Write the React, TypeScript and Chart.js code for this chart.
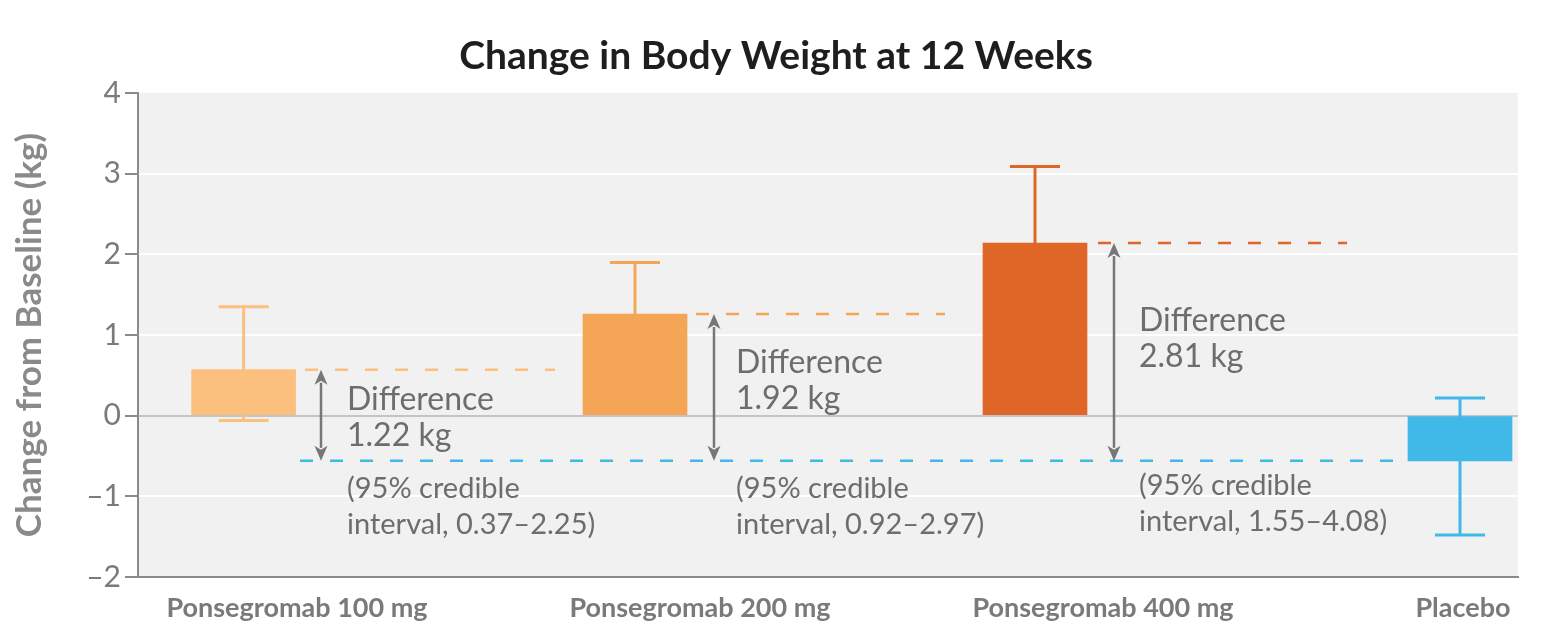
import React, { useEffect, useRef } from "react";
import { Chart, registerables } from "chart.js";

Chart.register(...registerables);

// ---------- data ----------
const CATEGORIES = ["Ponsegromab 100 mg", "Ponsegromab 200 mg", "Ponsegromab 400 mg", "Placebo"];
const MEAN_CHANGE = [0.57, 1.26, 2.14, -0.56];
const CI_UPPER = [1.35, 1.9, 3.09, 0.22];
const CI_LOWER: (number | null)[] = [-0.06, null, null, -1.48];
const DIFFERENCE_KG = ["1.22", "1.92", "2.81"];
const CREDIBLE_INTERVALS = ["0.37\u20132.25", "0.92\u20132.97", "1.55\u20134.08"];
const Y_TICKS = [-2, -1, 0, 1, 2, 3, 4];
const BAR_COLORS = ["#fcc07e", "#f5a556", "#e06627", "#40b8e8"];

// ---------- layout (x in layout units along a linear axis) ----------
const X_MAX = 3.45;
const BAR_POS = [0.264, 1.2425, 2.2425, 3.305];
const LABEL_POS = [0.3975, 1.405, 2.4125, 3.3125];
const DASH_SPANS = [
  [0.4175, 1.0425],
  [1.395, 2.0175],
  [2.4, 3.0225],
];
const PLACEBO_DASH_SPAN = [0.405, 3.175];
const ARROW_X = [0.4575, 1.44, 2.44];
const TEXT_X = [0.5225, 1.495, 2.5025];
const DIFF_TEXT_Y = [0.074, 0.533, 1.053];
const CI_TEXT_Y = [-1.016, -1.016, -0.979];

const FONT = "Lato, 'Noto Sans', sans-serif";

export default function App() {
  const ref = useRef<HTMLCanvasElement | null>(null);

  useEffect(() => {
    const canvas = ref.current;
    if (!canvas) return;

    const placeboIdx = 3;

    const bgPlugin = {
      id: "bg",
      beforeDraw(chart: any) {
        const { ctx, chartArea } = chart;
        ctx.save();
        ctx.fillStyle = "#f1f1f1";
        ctx.fillRect(chartArea.left, chartArea.top, chartArea.right - chartArea.left, chartArea.bottom - chartArea.top);
        ctx.restore();
      },
    };

    const titlePlugin = {
      id: "customTitle",
      afterDraw(chart: any) {
        const { ctx } = chart;
        ctx.save();
        ctx.font = `bold 39px ${FONT}`;
        ctx.fillStyle = "#1e1e1e";
        ctx.textAlign = "center";
        ctx.textBaseline = "alphabetic";
        ctx.fillText("Change in Body Weight at 12 Weeks", 776, 69);
        ctx.restore();
      },
    };

    const errorBarPlugin = {
      id: "errorBars",
      beforeDatasetsDraw(chart: any) {
        const { ctx } = chart;
        const xs = chart.scales.x;
        const ys = chart.scales.y;
        ctx.save();
        ctx.lineWidth = 3;
        for (let i = 0; i < CATEGORIES.length; i++) {
          const x = xs.getPixelForValue(BAR_POS[i]);
          const yU = ys.getPixelForValue(CI_UPPER[i]);
          const low = CI_LOWER[i];
          const yL = ys.getPixelForValue(low === null ? MEAN_CHANGE[i] : low);
          ctx.strokeStyle = BAR_COLORS[i];
          ctx.beginPath();
          ctx.moveTo(x, yU);
          ctx.lineTo(x, yL);
          ctx.stroke();
          ctx.beginPath();
          ctx.moveTo(x - 25, yU);
          ctx.lineTo(x + 25, yU);
          if (low !== null) {
            ctx.moveTo(x - 25, yL);
            ctx.lineTo(x + 25, yL);
          }
          ctx.stroke();
        }
        ctx.restore();
      },
    };

    const annotationPlugin = {
      id: "annotations",
      afterDatasetsDraw(chart: any) {
        const { ctx } = chart;
        const xs = chart.scales.x;
        const ys = chart.scales.y;
        ctx.save();
        const yBase = ys.getPixelForValue(MEAN_CHANGE[placeboIdx]);
        for (let i = 0; i < DIFFERENCE_KG.length; i++) {
          const x = xs.getPixelForValue(ARROW_X[i]);
          const yTop = ys.getPixelForValue(MEAN_CHANGE[i]);
          const head = 15;
          const hw = 6.5;
          ctx.strokeStyle = "#777777";
          ctx.fillStyle = "#777777";
          ctx.lineWidth = 2.5;
          ctx.beginPath();
          ctx.moveTo(x, yTop + head - 2);
          ctx.lineTo(x, yBase - head + 2);
          ctx.stroke();
          ctx.beginPath();
          ctx.moveTo(x, yTop);
          ctx.lineTo(x - hw, yTop + head);
          ctx.lineTo(x, yTop + head - 4);
          ctx.lineTo(x + hw, yTop + head);
          ctx.closePath();
          ctx.fill();
          ctx.beginPath();
          ctx.moveTo(x, yBase);
          ctx.lineTo(x - hw, yBase - head);
          ctx.lineTo(x, yBase - head + 4);
          ctx.lineTo(x + hw, yBase - head);
          ctx.closePath();
          ctx.fill();

          const tx = xs.getPixelForValue(TEXT_X[i]);
          ctx.fillStyle = "#6d6d6d";
          ctx.textAlign = "left";
          ctx.textBaseline = "alphabetic";
          ctx.font = `32px ${FONT}`;
          const dy = ys.getPixelForValue(DIFF_TEXT_Y[i]);
          ctx.fillText("Difference", tx, dy);
          ctx.fillText(`${DIFFERENCE_KG[i]} kg`, tx, dy + 36);
          ctx.font = `29px ${FONT}`;
          const cy = ys.getPixelForValue(CI_TEXT_Y[i]);
          ctx.fillText("(95% credible", tx, cy);
          ctx.fillText(`interval, ${CREDIBLE_INTERVALS[i]})`, tx, cy + 36);
        }
        ctx.restore();
      },
    };

    const dashDatasets: any[] = DASH_SPANS.map((span, i) => ({
      type: "line",
      data: [
        { x: span[0], y: MEAN_CHANGE[i] },
        { x: span[1], y: MEAN_CHANGE[i] },
      ],
      borderColor: BAR_COLORS[i],
      borderWidth: 2.5,
      borderDash: [13, 17],
      pointRadius: 0,
      fill: false,
      order: 1,
    }));
    dashDatasets.push({
      type: "line",
      data: [
        { x: PLACEBO_DASH_SPAN[0], y: MEAN_CHANGE[placeboIdx] },
        { x: PLACEBO_DASH_SPAN[1], y: MEAN_CHANGE[placeboIdx] },
      ],
      borderColor: BAR_COLORS[placeboIdx],
      borderWidth: 2.5,
      borderDash: [13, 17],
      pointRadius: 0,
      fill: false,
      order: 1,
    });

    const chart = new Chart(canvas, {
      type: "bar",
      data: {
        datasets: [
          {
            type: "bar",
            data: BAR_POS.map((x, i) => ({ x, y: MEAN_CHANGE[i] })),
            backgroundColor: BAR_COLORS,
            borderWidth: 0,
            barThickness: 104,
            order: 2,
          } as any,
          ...dashDatasets,
        ],
      },
      options: {
        animation: false,
        responsive: false,
        maintainAspectRatio: false,
        layout: { padding: { left: 0, right: 28, top: 93, bottom: 0 } },
        plugins: {
          legend: { display: false },
          tooltip: { enabled: false },
          title: { display: false },
        },
        scales: {
          x: {
            type: "linear",
            min: 0,
            max: X_MAX,
            offset: false,
            grid: { display: false, drawTicks: false },
            border: { display: true, color: "#8a8a8a", width: 2 },
            afterBuildTicks: (s: any) => {
              s.ticks = LABEL_POS.map((v) => ({ value: v }));
            },
            afterFit: (s: any) => {
              s.height = 60;
            },
            ticks: {
              autoSkip: false,
              maxRotation: 0,
              minRotation: 0,
              padding: 15,
              color: "#7a7a7a",
              font: { family: FONT, size: 27, weight: "bold" },
              callback: (_v: any, i: number) => CATEGORIES[i],
            },
          },
          y: {
            type: "linear",
            min: -2,
            max: 4,
            afterBuildTicks: (s: any) => {
              s.ticks = Y_TICKS.map((v) => ({ value: v }));
            },
            afterFit: (s: any) => {
              s.width = 138;
            },
            grid: {
              color: (c: any) => {
                const v = c.tick ? c.tick.value : null;
                if (v === 0) return "#c4c4c4";
                if (v === 4 || v === -2) return "rgba(0,0,0,0)";
                return "#ffffff";
              },
              lineWidth: 2,
              drawTicks: true,
              tickLength: 13,
              tickColor: "#8a8a8a",
              tickWidth: 2,
            },
            border: { display: true, color: "#8a8a8a", width: 2 },
            ticks: {
              padding: 4,
              color: "#7b7b7b",
              font: { family: FONT, size: 30 },
              callback: (v: any) => (Number(v) < 0 ? "\u2013" + Math.abs(Number(v)) : String(v)),
            },
            title: {
              display: true,
              text: "Change from Baseline (kg)",
              color: "#8a8a8a",
              font: { family: FONT, size: 35, weight: "bold" },
              padding: { top: 9, bottom: 0 },
            },
          },
        },
      } as any,
      plugins: [bgPlugin, errorBarPlugin, annotationPlugin, titlePlugin],
    });

    return () => chart.destroy();
  }, []);

  return (
    <div style={{ position: "absolute", left: 0, top: 0, width: 1546, height: 637, background: "#ffffff" }}>
      <canvas ref={ref} width={1546} height={637} style={{ width: 1546, height: 637, display: "block" }} />
    </div>
  );
}
